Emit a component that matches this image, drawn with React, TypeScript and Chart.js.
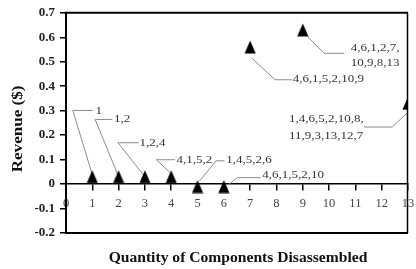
import React, { useEffect, useRef } from 'react';
import { Chart, registerables } from 'chart.js';

Chart.register(...registerables);

// ---- data ----
const quantities = [1, 2, 3, 4, 5, 6, 7, 9, 13];
const revenues = [0.03, 0.03, 0.03, 0.03, -0.01, -0.01, 0.56, 0.63, 0.33];
const sequences = [
  '1',
  '1,2',
  '1,2,4',
  '4,1,5,2',
  '1,4,5,2,6',
  '4,6,1,5,2,10',
  '4,6,1,5,2,10,9',
  '4,6,1,2,7,\n10,9,8,13',
  '1,4,6,5,2,10,8,\n11,9,3,13,12,7',
];
const xTitle = 'Quantity of Components Disassembled';
const yTitle = 'Revenue ($)';

// ---- callout styling: leader geometry in pixels relative to each point ----
const callouts = [
  { start: [0, -2], elbow: [-19.5, -66.3], end: [0.5, -66.3], text: [3.2, -65.5], gap: 16 },
  { start: [0, 0], elbow: [-23.5, -57.3], end: [-6.2, -57.3], text: [-4.5, -58], gap: 16 },
  { start: [0, 0], elbow: [-27, -34], end: [-6.3, -34], text: [-5.3, -34], gap: 16 },
  { start: [-1, -4], elbow: [-14.8, -17], end: [3.6, -17], text: [5.2, -17], gap: 16 },
  { start: [2, -5.5], elbow: [18.5, -25.7], end: [27, -25.7], text: [28.7, -26.7], gap: 16 },
  { start: [5, -2], elbow: [13.4, -8.9], end: [36.7, -8.9], text: [38.4, -11.5], gap: 16 },
  { start: [1.6, 11], elbow: [24.9, 32.7], end: [41.6, 32.7], text: [42.5, 31.7], gap: 16 },
  { start: [4.8, 6.7], elbow: [21.4, 23.4], end: [41.4, 23.4], text: [48.1, 18.4], gap: 15 },
  { start: [-0.7, 9.4], elbow: [-15.7, 23.7], end: [-44, 23.7], text: [-119, 16], gap: 16.7 },
];

const FONT = "'Liberation Serif', 'Times New Roman', serif";

function drawScaledText(
  ctx: CanvasRenderingContext2D,
  text: string,
  x: number,
  y: number,
  size: number,
  weight: string,
  hs: number,
  color: string,
  align: CanvasTextAlign = 'left',
  rotate = 0
) {
  ctx.save();
  ctx.translate(x, y);
  if (rotate) ctx.rotate(rotate);
  ctx.scale(hs, 1);
  ctx.font = `${weight} ${size}px ${FONT}`;
  ctx.fillStyle = color;
  ctx.textAlign = align;
  ctx.textBaseline = 'middle';
  ctx.fillText(text, 0, 0);
  ctx.restore();
}

function makeTriangle(): HTMLCanvasElement {
  const c = document.createElement('canvas');
  c.width = 12;
  c.height = 14;
  const g = c.getContext('2d')!;
  g.fillStyle = '#000';
  g.beginPath();
  g.moveTo(6, 0.5);
  g.lineTo(11.6, 13.5);
  g.lineTo(0.4, 13.5);
  g.closePath();
  g.fill();
  return c;
}

const calloutPlugin = {
  id: 'callouts',
  beforeDatasetsDraw(chart: any) {
    const ctx: CanvasRenderingContext2D = chart.ctx;
    const meta = chart.getDatasetMeta(0);
    ctx.save();
    ctx.strokeStyle = '#8c8c8c';
    ctx.lineWidth = 1;
    meta.data.forEach((pt: any, i: number) => {
      const c = callouts[i];
      const { x, y } = pt;
      ctx.beginPath();
      ctx.moveTo(x + c.start[0], y + c.start[1]);
      ctx.lineTo(x + c.elbow[0], y + c.elbow[1]);
      ctx.lineTo(x + c.end[0], y + c.end[1]);
      ctx.stroke();
      sequences[i].split('\n').forEach((line, j) => {
        drawScaledText(ctx, line, x + c.text[0], y + c.text[1] + j * c.gap, 11, 'normal', 1.18, '#333');
      });
    });
    ctx.restore();
  },
  afterDraw(chart: any) {
    const ctx: CanvasRenderingContext2D = chart.ctx;
    const { left, right, top, bottom } = chart.chartArea;
    ctx.save();
    ctx.strokeStyle = '#000';
    ctx.lineWidth = 2;
    ctx.beginPath();
    ctx.moveTo(left, top);
    ctx.lineTo(right, top);
    ctx.moveTo(left, top - 1);
    ctx.lineTo(left, bottom + 1);
    ctx.moveTo(left, bottom);
    ctx.lineTo(right, bottom);
    ctx.stroke();
    ctx.lineWidth = 1.5;
    ctx.beginPath();
    ctx.moveTo(right - 0.5, top);
    ctx.lineTo(right - 0.5, bottom);
    ctx.stroke();
    ctx.restore();
    drawScaledText(ctx, xTitle, (left + right) / 2 + 1, 258, 15, 'bold', 1.04, '#111', 'center');
    drawScaledText(ctx, yTitle, 18, (top + bottom) / 2 + 6, 15, 'bold', 1.14, '#111', 'center', -Math.PI / 2);
  },
};

export default function App() {
  const ref = useRef<HTMLCanvasElement>(null);
  useEffect(() => {
    if (!ref.current) return;
    const tri = makeTriangle();
    const chart = new Chart(ref.current, {
      type: 'scatter',
      data: {
        datasets: [
          {
            data: quantities.map((q, i) => ({ x: q, y: revenues[i] })),
            pointStyle: tri as any,
            pointRadius: 7,
            showLine: false,
            clip: 0,
          } as any,
        ],
      },
      options: {
        responsive: false,
        animation: false,
        layout: { padding: { top: 11, right: 2, bottom: 36, left: 0 } },
        plugins: { legend: { display: false }, tooltip: { enabled: false } },
        scales: {
          x: {
            type: 'linear',
            position: { y: 0 } as any,
            min: 0,
            max: 13,
            ticks: {
              stepSize: 1,
              color: '#444',
              font: { family: FONT, size: 12.5 },
              padding: 6,
              maxRotation: 0,
              autoSkip: false,
            },
            grid: { drawOnChartArea: false, drawTicks: true, tickLength: 6, color: '#000', lineWidth: 1.5 },
            border: { display: true, color: '#000', width: 1.5 },
            afterFit: (s: any) => {
              s.paddingLeft = 0;
              s.paddingRight = 0;
            },
          },
          y: {
            type: 'linear',
            min: -0.2,
            max: 0.7,
            ticks: {
              stepSize: 0.1,
              color: '#222',
              font: { family: FONT, size: 13, weight: 'bold' },
              padding: 5,
              callback: (v: any) => (Math.abs(Number(v)) < 1e-9 ? '0' : Number(v).toFixed(1)),
            },
            grid: { drawOnChartArea: false, drawTicks: true, tickLength: 6, color: '#000', lineWidth: 1.5 },
            border: { display: false },
            afterFit: (s: any) => {
              s.width = 66;
            },
          },
        },
      },
      plugins: [calloutPlugin],
    });
    return () => chart.destroy();
  }, []);
  return (
    <div style={{ position: 'absolute', left: 0, top: 0, width: 416, height: 269, background: '#fff' }}>
      <canvas ref={ref} width={416} height={269} style={{ display: 'block' }} />
    </div>
  );
}
